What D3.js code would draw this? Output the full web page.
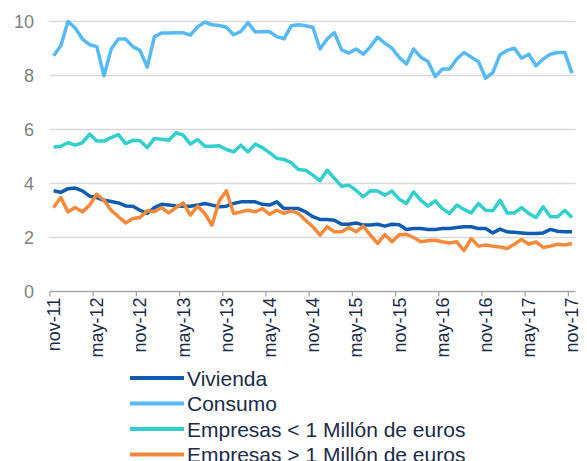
<!DOCTYPE html>
<html>
<head>
<meta charset="utf-8">
<script src="https://cdn.jsdelivr.net/npm/d3@7"></script>
<style>
  body { margin: 0; background: #fff; }
  svg { display: block; font-family: "Liberation Sans", Arial, sans-serif; }
</style>
</head>
<body>
<div id="chart"></div>
<script>
// months nov-11 .. nov-17
var months = ("nov-11 dic-11 ene-12 feb-12 mar-12 abr-12 may-12 jun-12 jul-12 ago-12 sep-12 oct-12 " +
  "nov-12 dic-12 ene-13 feb-13 mar-13 abr-13 may-13 jun-13 jul-13 ago-13 sep-13 oct-13 " +
  "nov-13 dic-13 ene-14 feb-14 mar-14 abr-14 may-14 jun-14 jul-14 ago-14 sep-14 oct-14 " +
  "nov-14 dic-14 ene-15 feb-15 mar-15 abr-15 may-15 jun-15 jul-15 ago-15 sep-15 oct-15 " +
  "nov-15 dic-15 ene-16 feb-16 mar-16 abr-16 may-16 jun-16 jul-16 ago-16 sep-16 oct-16 " +
  "nov-16 dic-16 ene-17 feb-17 mar-17 abr-17 may-17 jun-17 jul-17 ago-17 sep-17 oct-17 nov-17").split(" ");

var tickLabels = ["nov-11","may-12","nov-12","may-13","nov-13","may-14","nov-14",
                  "may-15","nov-15","may-16","nov-16","may-17","nov-17"];
var yTicks = [0, 2, 4, 6, 8, 10];

var vivienda = [3.73,3.67,3.81,3.83,3.73,3.53,3.48,3.38,3.33,3.28,3.17,3.16,
  3.01,2.89,3.11,3.23,3.20,3.17,3.16,3.16,3.20,3.26,3.20,3.14,
  3.16,3.26,3.32,3.32,3.32,3.23,3.20,3.32,3.07,3.07,3.07,2.95,
  2.77,2.67,2.67,2.64,2.49,2.49,2.54,2.46,2.46,2.49,2.42,2.49,
  2.47,2.30,2.33,2.33,2.30,2.30,2.33,2.33,2.37,2.40,2.40,2.33,
  2.33,2.17,2.31,2.21,2.19,2.17,2.15,2.15,2.17,2.30,2.23,2.21,2.21];

var consumo = [8.73,9.10,10.0,9.76,9.35,9.14,9.07,7.99,8.98,9.35,9.35,9.07,
  8.93,8.31,9.44,9.57,9.57,9.58,9.58,9.50,9.80,9.98,9.88,9.85,
  9.79,9.51,9.63,9.96,9.61,9.63,9.62,9.44,9.36,9.84,9.88,9.84,
  9.79,8.98,9.35,9.59,8.95,8.83,8.98,8.79,9.07,9.42,9.20,9.01,
  8.67,8.43,8.98,8.68,8.52,7.96,8.24,8.24,8.61,8.85,8.68,8.52,
  7.90,8.11,8.77,8.93,9.01,8.64,8.79,8.36,8.61,8.79,8.85,8.85,8.09];

var empresasMenor = [5.35,5.38,5.51,5.42,5.51,5.83,5.57,5.57,5.70,5.81,5.48,5.60,
  5.58,5.33,5.67,5.64,5.60,5.88,5.79,5.46,5.63,5.38,5.38,5.40,
  5.26,5.17,5.42,5.17,5.46,5.33,5.14,4.93,4.89,4.77,4.52,4.49,
  4.31,4.10,4.49,4.19,3.90,3.94,3.75,3.51,3.73,3.72,3.57,3.72,
  3.42,3.26,3.69,3.38,3.16,3.36,3.07,2.89,3.20,3.04,2.91,3.26,
  3.01,2.99,3.38,2.91,2.91,3.11,2.89,2.74,3.14,2.77,2.77,3.01,2.74];

var empresasMayor = [3.11,3.48,2.95,3.11,2.95,3.20,3.60,3.38,3.01,2.77,2.54,2.70,
  2.74,2.99,2.95,3.11,2.91,3.11,3.28,2.83,3.16,2.89,2.46,3.35,
  3.73,2.89,2.95,3.01,2.95,3.07,2.86,3.01,2.89,2.99,2.89,2.64,
  2.40,2.09,2.40,2.21,2.21,2.37,2.21,2.42,2.09,1.78,2.11,1.84,
  2.10,2.12,2.00,1.84,1.88,1.90,1.84,1.80,1.84,1.51,1.96,1.68,
  1.72,1.68,1.65,1.59,1.75,1.93,1.75,1.84,1.63,1.68,1.75,1.72,1.78];

var seriesNames = ["Vivienda", "Consumo", "Empresas < 1 Millón de euros", "Empresas > 1 Millón de euros"];
var seriesColors = ["#0f5cb0", "#56baf6", "#33cece", "#f78a3a"];

var series = [vivienda, consumo, empresasMenor, empresasMayor].map(function (vals, i) {
  return { name: seriesNames[i], color: seriesColors[i],
           values: vals.map(function (v, k) { return { month: months[k], k: k, v: v }; }) };
});

var width = 587, height = 461;
var plotLeft = 50, plotRight = 575.6, plotTop = 21.5, plotBottom = 291.5;

var svg = d3.select("#chart").append("svg").attr("width", width).attr("height", height);

// category axis, points in the middle of each month
var x = d3.scaleLinear().domain([0, months.length]).range([plotLeft, plotRight]);
var y = d3.scaleLinear().domain([0, 10]).range([plotBottom, plotTop]);

// gridlines
svg.append("g").selectAll("line").data(yTicks.filter(function (d) { return d > 0; }))
  .enter().append("line")
  .attr("x1", plotLeft).attr("x2", plotRight)
  .attr("y1", function (d) { return y(d); }).attr("y2", function (d) { return y(d); })
  .style("stroke", "#d9d9d9").style("stroke-width", 1.3);

// y labels
svg.append("g").selectAll("text").data(yTicks).enter().append("text")
  .attr("x", 34).attr("y", function (d) { return y(d); }).attr("dy", "0.36em")
  .attr("text-anchor", "end")
  .style("font-size", "18px").style("fill", "#7f7f7f")
  .text(function (d) { return d; });

// x axis line + ticks
svg.append("line").attr("x1", plotLeft).attr("x2", plotRight).attr("y1", plotBottom).attr("y2", plotBottom)
  .style("stroke", "#a6a6a6").style("stroke-width", 1.3);
var tickIdx = tickLabels.map(function (t) { return months.indexOf(t); });
svg.append("g").selectAll("line").data(tickIdx).enter().append("line")
  .attr("x1", function (d) { return x(d); }).attr("x2", function (d) { return x(d); })
  .attr("y1", plotBottom).attr("y2", plotBottom + 5)
  .style("stroke", "#a6a6a6").style("stroke-width", 1.3);

// x labels, rotated
svg.append("g").selectAll("text").data(tickIdx).enter().append("text")
  .attr("transform", function (d) { return "translate(" + x(d + 0.5) + "," + (plotBottom + 6) + ") rotate(-90)"; })
  .attr("text-anchor", "end").attr("dy", "0.36em")
  .style("font-size", "18px").style("fill", "#1c2b48")
  .text(function (d) { return months[d]; });

// lines
var line = d3.line()
  .x(function (d) { return x(d.k + 0.5); })
  .y(function (d) { return y(d.v); });

svg.append("g").selectAll("path").data(series).enter().append("path")
  .attr("d", function (d) { return line(d.values); })
  .style("fill", "none")
  .style("stroke", function (d) { return d.color; })
  .style("stroke-width", 3.5)
  .style("stroke-linejoin", "round");

// legend
var legend = svg.append("g").selectAll("g").data(series).enter().append("g")
  .attr("transform", function (d, i) { return "translate(130," + (378 + i * 25.5) + ")"; });
legend.append("line").attr("x1", 0).attr("x2", 54).attr("y1", 0).attr("y2", 0)
  .style("stroke", function (d) { return d.color; }).style("stroke-width", 4);
legend.append("text").attr("x", 57).attr("dy", "0.36em")
  .style("font-size", "21px").style("fill", "#1c2b48")
  .text(function (d) { return d.name; });
</script>
</body>
</html>
